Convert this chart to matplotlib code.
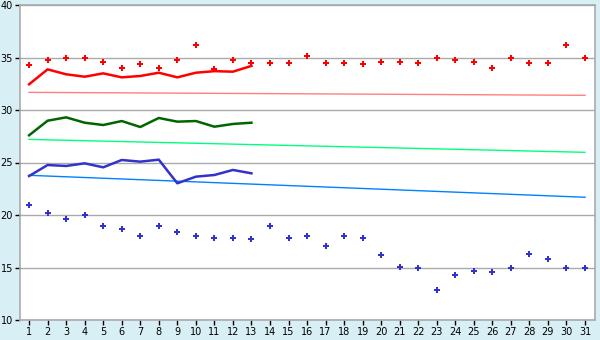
import matplotlib.pyplot as plt
import numpy as np

# days of the month
days = np.arange(1, 32)
days_short = np.arange(1, 14)

# red series: daily points and 13-day line
red_points = [34.26, 34.73, 34.95, 35.0, 34.54, 33.97, 34.35, 33.97, 34.73, 36.16,
              33.9, 34.73, 34.48, 34.48, 34.48, 35.14, 34.48, 34.48, 34.38, 34.57,
              34.6, 34.48, 35.0, 34.73, 34.54, 33.97, 35.0, 34.48, 34.48, 36.16, 35.0]
red_line = [32.45, 33.87, 33.4, 33.17, 33.49, 33.11, 33.24, 33.55, 33.11, 33.55,
            33.7, 33.65, 34.2]

# green series
green_line = [27.59, 28.98, 29.3, 28.79, 28.57, 28.95, 28.38, 29.24, 28.89, 28.95,
              28.41, 28.67, 28.79]

# blue series
blue_line = [23.71, 24.76, 24.67, 24.92, 24.54, 25.24, 25.08, 25.27, 23.02, 23.65,
             23.81, 24.29, 23.97]
blue_points = [20.92, 20.16, 19.65, 19.97, 18.92, 18.63, 17.97, 18.92, 18.35, 17.97,
               17.78, 17.78, 17.68, 18.92, 17.78, 17.97, 17.02, 17.97, 17.78, 16.16,
               15.02, 15.0, 12.83, 14.26, 14.64, 14.54, 15.0, 16.26, 15.78, 15.0, 14.93]

# trend lines (value at day 1 and day 31)
trend_days = [1, 31]
red_trend = [31.68, 31.4]
green_trend = [27.2, 25.97]
blue_trend = [23.78, 21.69]

bg = '#d9eff6'
grey = '#aaaaaa'

fig = plt.figure(figsize=(6, 3.4), dpi=100, facecolor=bg)
ax = fig.add_axes([20/600, 20/340, 575/600, 315/340])
ax.set_facecolor('white')

# trend lines first so the data sits on top
ax.plot(trend_days, red_trend, color='#ff8080', lw=1)
ax.plot(trend_days, green_trend, color='#00ff80', lw=1)
ax.plot(trend_days, blue_trend, color='#0080ff', lw=1)

ax.plot(days_short, red_line, color='#ff0000', lw=1.8)
ax.plot(days_short, green_line, color='#006600', lw=1.8)
ax.plot(days_short, blue_line, color='#3333cc', lw=1.8)

ax.plot(days, red_points, ls='none', marker='P', ms=5, color='#ff0000', mew=0)
ax.plot(days, blue_points, ls='none', marker='P', ms=5, color='#3333cc', mew=0)

ax.set_xlim(0.51, 31.54)
ax.set_ylim(10, 40)
ax.set_xticks(days)
ax.set_yticks(range(10, 41, 5))
ax.tick_params(labelsize=7, color='black', length=3.5, width=1, pad=1.5)
ax.grid(axis='y', color=grey, lw=1)
ax.set_axisbelow(True)
for s in ax.spines.values():
    s.set_color(grey)
    s.set_linewidth(1.2)

fig.savefig('out.png', dpi=100, facecolor=bg)
